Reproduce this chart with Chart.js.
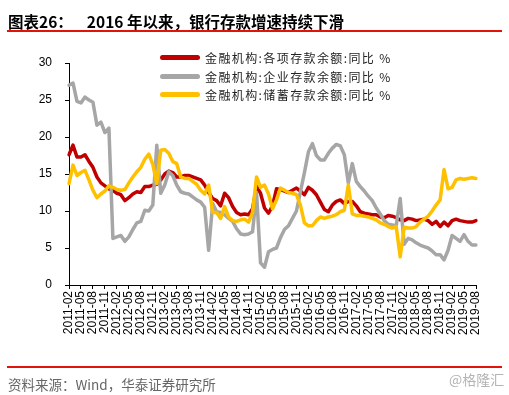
<!DOCTYPE html>
<html>
<head>
<meta charset="utf-8">
<script src="https://cdn.jsdelivr.net/npm/chart.js@4.4.1/dist/chart.umd.min.js"></script>
<style>
  html, body { margin: 0; padding: 0; background: #fff; }
  #wrap { position: relative; width: 509px; height: 395px; overflow: hidden; }
  #grafikoa { position: absolute; left: 0; top: 0; }
  .title { position: absolute; left: 8px; top: 10px; font: bold 15.5px "Noto Sans CJK SC", sans-serif; color: #000; white-space: pre; }
  .rule { position: absolute; left: 7px; width: 495px; height: 2px; background: #e3120b; }
  .source { position: absolute; left: 8px; top: 374px; font: 13.5px "Noto Sans CJK SC", sans-serif; color: #666; }
  .mark { position: absolute; left: 449px; top: 369px; font: 14px "Noto Sans CJK SC", sans-serif; color: #b4b4b4; }
  #legend { position: absolute; left: 160px; top: 48px; }
  .item { height: 18.7px; display: flex; align-items: center; }
  .swatch { width: 40px; height: 5px; border-radius: 3px; margin-right: 5px; }
  .item span { font: 12px "Noto Sans CJK SC", sans-serif; letter-spacing: 1.4px; color: #222; white-space: pre; }
</style>
</head>
<body>
<div id="wrap">
  <canvas id="grafikoa" width="509" height="395"></canvas>
  <div class="title">图表26：    2016 年以来，银行存款增速持续下滑</div>
  <div class="rule" style="top:30px"></div>
  <div id="legend"></div>
  <div class="rule" style="top:366px"></div>
  <div class="source">资料来源：Wind，华泰证券研究所</div>
  <div class="mark">@格隆汇</div>
</div>
<script>
// monthly, 2011-02 .. 2019-08
const months = [];
for (let y = 2011; y <= 2019; y++) {
  for (let m = 1; m <= 12; m++) {
    if ((y === 2011 && m < 2) || (y === 2019 && m > 8)) continue;
    months.push(y + '-' + String(m).padStart(2, '0'));
  }
}

const labelNames = [
  '金融机构:各项存款余额:同比 %',
  '金融机构:企业存款余额:同比 %',
  '金融机构:储蓄存款余额:同比 %'
];

const totalDeposits = [
  17.6, 18.9, 17.3, 17.3, 17.6, 16.7, 15.9, 14.6, 13.8, 13.4, 13.0, 12.8,
  12.4, 12.2, 11.4, 11.8, 12.3, 12.6, 12.5, 13.3, 13.3, 13.5, 13.6, 14.2,
  15.0, 15.4, 15.2, 14.6, 14.6, 14.8, 14.8, 14.6, 14.4, 14.2, 13.5, 12.5,
  11.7, 11.4, 10.7, 12.4, 11.8, 10.6, 9.8, 9.5, 9.6, 9.5, 10.3, 13.3,
  12.4, 10.4, 9.7, 10.7, 13.0, 12.9, 12.7, 12.5, 12.8, 13.1, 12.7, 12.2,
  13.2, 12.8, 12.2, 11.2, 10.2, 9.9, 10.8, 11.3, 11.5, 11.0, 11.3, 11.3,
  10.7, 9.9, 9.7, 9.6, 9.5, 9.5, 9.2, 9.1, 9.4, 9.3, 9.1, 8.8,
  8.7, 9.0, 8.9, 8.7, 8.8, 8.9, 8.7, 8.2, 8.6, 7.9, 8.5, 8.0,
  8.7, 8.9, 8.7, 8.6, 8.5, 8.5, 8.7
];

const corpDeposits = [
  27.0, 27.3, 24.8, 24.6, 25.4, 25.0, 24.7, 21.6, 22.0, 20.6, 21.2, 6.3,
  6.5, 6.7, 5.9, 6.5, 7.5, 8.4, 8.6, 10.1, 10.0, 10.8, 18.9, 12.4,
  13.5, 15.3, 14.8, 13.5, 12.6, 12.4, 12.3, 11.9, 11.5, 11.2, 10.5, 4.7,
  11.0, 9.9, 9.8, 9.5, 9.0, 8.6, 7.6, 6.9, 6.8, 6.9, 7.2, 12.5,
  3.0, 2.4, 4.5, 4.8, 5.0, 6.4, 7.5, 8.0, 9.0, 10.0, 12.6, 15.2,
  18.0, 19.1, 17.5, 16.9, 16.9, 17.8, 18.5, 19.0, 18.8, 17.6, 13.8, 16.4,
  14.0, 13.3, 12.7, 12.0, 11.4, 10.4, 9.6, 8.7, 8.2, 8.1, 8.0, 11.7,
  5.5, 6.3, 6.1, 5.7, 5.4, 5.2, 5.0, 4.6, 4.1, 4.1, 3.4, 4.7,
  6.7, 6.3, 5.9, 6.8, 5.9, 5.4, 5.4
];

const savingDeposits = [
  13.7, 16.2, 14.8, 15.2, 15.5, 14.2, 12.8, 11.8, 12.3, 12.7, 13.4, 13.2,
  12.9, 12.8, 12.9, 13.8, 14.6, 15.3, 15.9, 17.0, 17.7, 16.3, 13.7, 18.2,
  18.3, 17.8, 16.7, 16.4, 14.6, 14.4, 14.4, 14.0, 13.6, 12.8, 12.3, 13.5,
  9.8, 9.8, 9.0, 10.6, 9.2, 8.7, 8.6, 8.8, 8.9, 8.5, 9.8, 14.6,
  13.2, 13.5, 12.3, 10.3, 11.5, 13.1, 12.8, 12.5, 12.4, 12.2, 10.8, 8.4,
  8.0, 8.0, 8.7, 9.2, 9.0, 9.2, 9.3, 9.5, 9.9, 10.1, 13.5, 9.6,
  9.4, 9.4, 9.3, 9.2, 9.0, 8.8, 8.4, 8.2, 7.9, 7.7, 7.9, 3.8,
  7.8, 7.7, 7.7, 7.9, 8.5, 8.9, 9.3, 10.0, 10.8, 11.5, 15.6, 13.0,
  13.2, 14.2, 14.4, 14.3, 14.4, 14.5, 14.4
];

const colors = ['#c00000', '#a6a6a6', '#ffc000'];

const data = {
  labels: months,
  datasets: [totalDeposits, corpDeposits, savingDeposits].map((vals, i) => ({
    label: labelNames[i],
    data: vals,
    borderColor: colors[i],
    backgroundColor: colors[i],
    borderWidth: 3.5,
    pointRadius: 0,
    tension: 0,
    borderJoinStyle: 'round',
    borderCapStyle: 'round',
    order: 2 - i
  }))
};

const tickFont = { family: '"Liberation Sans", Arial, sans-serif', size: 12 };

const config = {
  type: 'line',
  data: data,
  options: {
    responsive: false,
    animation: false,
    devicePixelRatio: 1,
    layout: { padding: { top: 63, right: 33, bottom: 0, left: 0 } },
    plugins: { legend: { display: false }, tooltip: { enabled: false } },
    scales: {
      x: {
        offset: false,
        border: { color: '#000', width: 1 },
        grid: {
          drawOnChartArea: false,
          drawTicks: true,
          tickLength: 4,
          tickColor: (c) => (c.index % 3 === 0 ? '#000' : 'rgba(0,0,0,0)')
        },
        ticks: {
          autoSkip: false,
          minRotation: 90,
          maxRotation: 90,
          padding: 2,
          color: '#000',
          font: tickFont,
          callback: function (v, i) { return i % 3 === 0 ? months[i] : ''; }
        },
        afterFit: (s) => { s.height = 110; }
      },
      y: {
        min: 0,
        max: 30,
        border: { color: '#000', width: 1 },
        grid: { drawOnChartArea: false, drawTicks: true, tickLength: 4, tickColor: '#000' },
        ticks: { stepSize: 5, padding: 13, color: '#000', font: tickFont },
        afterFit: (s) => { s.width = 69; }
      }
    }
  }
};

const ctx = document.getElementById('grafikoa').getContext('2d');
new Chart(ctx, config);

// legend in the plot area, built from the datasets
const legend = document.getElementById('legend');
data.datasets.forEach((ds) => {
  const row = document.createElement('div');
  row.className = 'item';
  const sw = document.createElement('div');
  sw.className = 'swatch';
  sw.style.background = ds.borderColor;
  const txt = document.createElement('span');
  txt.textContent = ds.label;
  row.appendChild(sw);
  row.appendChild(txt);
  legend.appendChild(row);
});
</script>
</body>
</html>
